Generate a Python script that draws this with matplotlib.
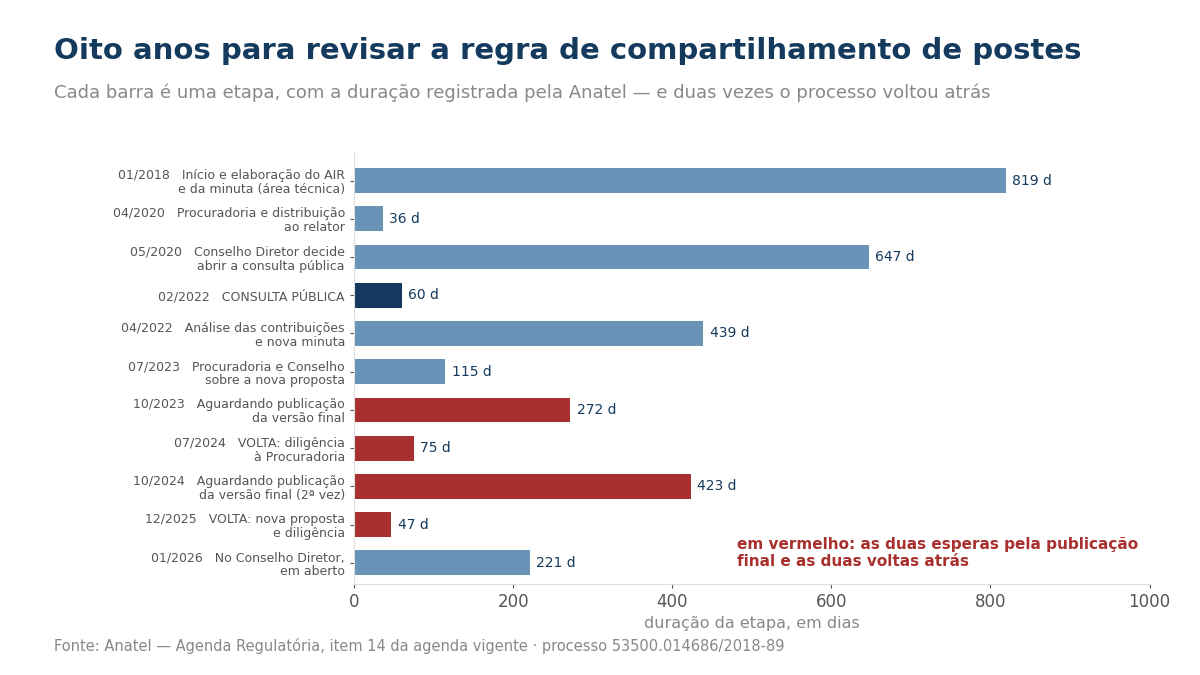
import matplotlib
matplotlib.use("Agg")
import matplotlib.pyplot as plt

labels = [
    "01/2018   Início e elaboração do AIR\ne da minuta (área técnica)",
    "04/2020   Procuradoria e distribuição\nao relator",
    "05/2020   Conselho Diretor decide\nabrir a consulta pública",
    "02/2022   CONSULTA PÚBLICA",
    "04/2022   Análise das contribuições\ne nova minuta",
    "07/2023   Procuradoria e Conselho\nsobre a nova proposta",
    "10/2023   Aguardando publicação\nda versão final",
    "07/2024   VOLTA: diligência\nà Procuradoria",
    "10/2024   Aguardando publicação\nda versão final (2ª vez)",
    "12/2025   VOLTA: nova proposta\ne diligência",
    "01/2026   No Conselho Diretor,\nem aberto",
]
days = [819, 36, 647, 60, 439, 115, 272, 75, 423, 47, 221]
kinds = ["n", "n", "n", "cp", "n", "n", "r", "r", "r", "r", "n"]

palette = {"n": "#6a93b8", "cp": "#133a5e", "r": "#a8302e"}
colors = [palette[k] for k in kinds]

fig = plt.figure(figsize=(12, 6.75), dpi=100)
ax = fig.add_axes([0.295, 0.135, 0.663, 0.64])

y = range(len(days))
ax.barh(y, days, color=colors, height=0.65)
for i, d in enumerate(days):
    ax.text(d + 8, i, f"{d} d", va="center", ha="left", fontsize=10, color="#143a5e")

ax.set_yticks(list(y))
ax.set_yticklabels(labels, fontsize=9, color="#555555", linespacing=1.1)
ax.invert_yaxis()
ax.set_ylim(len(days) - 0.45, -0.75)
ax.set_xlim(0, 1000)
ax.set_xticks([0, 200, 400, 600, 800, 1000])
ax.tick_params(axis="x", labelsize=12, colors="#555555", length=3)
ax.tick_params(axis="y", length=3, color="#555555")
ax.set_xlabel("duração da etapa, em dias", fontsize=11.5, color="#888888")
for s in ["top", "right"]:
    ax.spines[s].set_visible(False)
for s in ["left", "bottom"]:
    ax.spines[s].set_color("#dddddd")

ax.text(482, 9.75, "em vermelho: as duas esperas pela publicação\nfinal e as duas voltas atrás",
        fontsize=11, fontweight="bold", color="#a8302e", va="center", ha="left")

fig.text(0.045, 0.925, "Oito anos para revisar a regra de compartilhamento de postes",
         fontsize=21, fontweight="bold", color="#143a5e", va="center")
fig.text(0.045, 0.863, "Cada barra é uma etapa, com a duração registrada pela Anatel — e duas vezes o processo voltou atrás",
         fontsize=13, color="#888888", va="center")
fig.text(0.045, 0.043, "Fonte: Anatel — Agenda Regulatória, item 14 da agenda vigente · processo 53500.014686/2018-89",
         fontsize=10.5, color="#888888", va="center")

fig.savefig("out.png", dpi=100)
